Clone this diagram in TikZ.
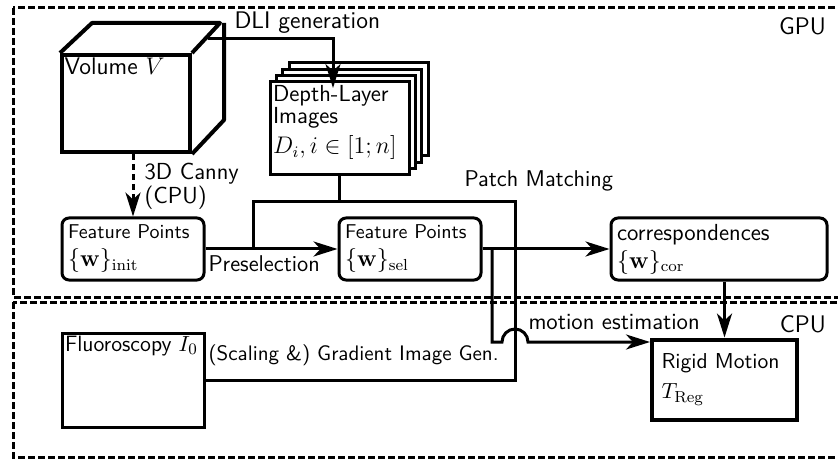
\documentclass[tikz,border=0pt]{standalone}
\usepackage{amsmath,amssymb}
\renewcommand{\familydefault}{\sfdefault}
\usetikzlibrary{arrows.meta,positioning,calc}
\newcommand{\fpset}[1]{{\fontsize{12}{14}\selectfont$\{\mathbf{w}\}_{\mathrm{#1}}$}}

\begin{document}
\begin{tikzpicture}[
  x=0.5pt,y=-0.5pt,line width=1.5pt,
  node distance=25pt and 66pt,
  fpbox/.style={draw,rounded corners=3.5pt,minimum width=71pt,minimum height=31pt,
    text width=65pt,inner xsep=3pt,inner ysep=1pt,align=left},
  plainbox/.style={draw,minimum width=71pt,minimum height=47pt},
  layer/.style={draw,fill=white,minimum width=69.5pt,minimum height=46.5pt},
  topleft/.style={anchor=north west,inner sep=1.5pt,align=left},
  lbl/.style={inner sep=1pt,align=left,font=\fontsize{11.6}{11}\selectfont},
  arrow/.style={-{Stealth[length=12pt,width=7.5pt,inset=3.5pt]}},
  dasharrow/.style={arrow,dash pattern=on 3pt off 2pt},
  zone/.style={dash pattern=on 3.5pt off 1.5pt}
]
\path[use as bounding box,clip] (0,0) rectangle (838,459);
\draw[zone] (13,8) rectangle (870,297);
\draw[zone] (13,302) rectangle (870,457);
\node[anchor=east,font=\large] (gpu) at (834,26) {GPU};
\node[anchor=east,font=\large] (cpu) at (834,324) {CPU};

\node[draw,line width=2pt,minimum width=64pt,minimum height=48.5pt,
  label={[topleft,font=\large]north west:Volume $V$}] (vol) at (126,103.5) {};
\draw[line width=2pt,line join=round] (vol.north west) -- ++(16pt,15pt) -- ++(64pt,0)
  -- (vol.north east) (vol.north east) ++(16pt,15pt) -- ++(0,-48.5pt) -- (vol.south east);

\foreach \s in {3,2,1}
  \node[layer] (dli\s) at ($(339.5,128.5)+(\s*3.2pt,\s*3.2pt)$) {};
\node[layer,label={[topleft,font=\fontsize{11.6}{10}\selectfont]north west:Depth-Layer\\
  Images\\[2.5pt]$D_i, i \in [1;n]$}] (dli) at (339.5,128.5) {};

\node[fpbox] (init) at (133,249) {Feature Points\\[2pt]\fpset{init}};
\node[fpbox,right=of init] (sel) {Feature Points\\[2pt]\fpset{sel}};
\node[fpbox,right=63.5pt of sel,minimum width=108pt,text width=102pt] (corr)
  {{\fontsize{11.6}{12}\selectfont correspondences}\\[2pt]\fpset{cor}};
\node[plainbox,below=of init,label={[topleft,font=\fontsize{11.1}{13}\selectfont]north west:Fluoroscopy $I_0$}] (fluoro) {};
\node[draw,line width=2pt,minimum width=72.5pt,minimum height=40pt,text width=63pt,
  inner xsep=4.5pt,align=left,below=28pt of corr,xshift=2.75pt,
  font=\fontsize{10.8}{13}\selectfont] (rigid) {Rigid Motion\\[2pt]$T_{\mathrm{Reg}}$};

\coordinate (dlistart) at (208,39);
\coordinate (dlitip) at (333,88);
\coordinate (pmL) at (253,202);
\coordinate (pmR) at (515,202);
\coordinate (me) at (492,342);

\draw[arrow] (dlistart) -| (dlitip);
\node[lbl,anchor=south west,font=\fontsize{12}{14}\selectfont] (dlilbl) at (231,37) {DLI generation};
\draw[dasharrow] (vol.south -| init.north) -- (init.north);
\node[lbl,anchor=west] (canny) at (141,186) {3D Canny\\(CPU)};

\draw[arrow] (init.east) -- (sel.west);
\node[lbl,anchor=north west,font=\fontsize{11.4}{13}\selectfont] (presel) at (205,252) {Preselection};
\draw (dli.south) -- (dli.south |- pmL);
\draw (pmL |- init.east) -- (pmL) -- (pmR) |- (fluoro.east);
\node[lbl,anchor=south west,font=\fontsize{11.4}{13}\selectfont] (pmlbl) at (461,195) {Patch Matching};
\node[lbl,anchor=south west,font=\fontsize{10.5}{12}\selectfont] (gradlbl) at (205,369)
  {(Scaling \&) Gradient Image Gen.};

\draw[arrow] (sel.east) -- (corr.west);
\draw[arrow] (me |- sel.east) -- (me) -- (502,342) arc[start angle=180,end angle=0,radius=6.5pt]
  -- (rigid.west |- me);
\node[lbl,anchor=south west] (melbl) at (525,333) {motion estimation};
\draw[arrow] (corr.south -| rigid.north) -- (rigid.north);
\end{tikzpicture}
\end{document}
